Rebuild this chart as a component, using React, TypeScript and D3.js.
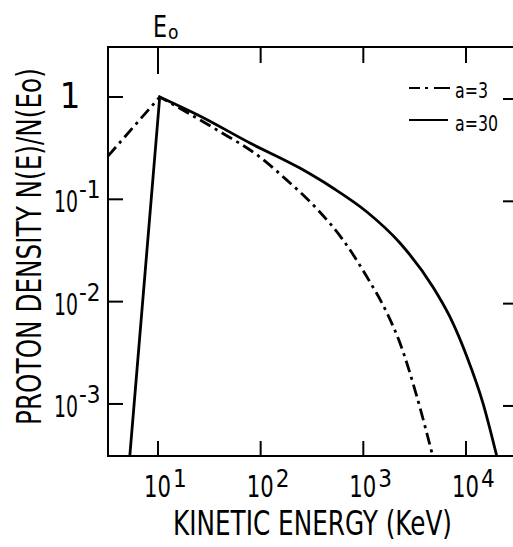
import React, { useLayoutEffect, useRef, useState } from "react";
import * as d3 from "d3";

const WIDTH = 513;
const HEIGHT = 547;

// values (energy in keV, density relative to N(Eo))
const energyA3 = [3.26, 10.4, 37.6, 98.4, 180, 354, 634, 1086, 1700, 2275, 3333, 4766];
const densityA3 = [0.265, 1, 0.476, 0.259, 0.154, 0.0805, 0.0401, 0.0174, 0.00774, 0.00394, 0.00117, 0.000303];
const energyA30 = [5.3, 10.4, 25.6, 78.7, 241, 506, 1086, 2275, 4766, 6980, 10230, 14630, 20040];
const densityA30 = [0.0003, 1, 0.652, 0.355, 0.202, 0.129, 0.0752, 0.0374, 0.0139, 0.00708, 0.00288, 0.00102, 0.000303];

const xTicks = [10, 100, 1000, 10000];
const xTickExp = ["1", "2", "3", "4"];
const yTicks = [1, 0.1, 0.01, 0.001];
const yTickExp = ["", "-1", "-2", "-3"];
const legendLabels = ["a=3", "a=30"];
const E0 = 10;

const FONT = "'DejaVu Sans Condensed', 'DejaVu Sans', sans-serif";
const DASHDOT = "12,5,3,5";

const margin = { left: 108, top: 47, right: 513, bottom: 456 };

const x = d3.scaleLog().domain([3.26, 28700]).range([margin.left, margin.right]);
const y = d3.scaleLog().domain([3.08, 3.1e-4]).range([margin.top, margin.bottom]);

type Pt = [number, number];

function curvePath(es: number[], ns: number[]) {
  const pts: Pt[] = es.map((e, i) => [x(e), y(ns[i])]);
  // sharp peak at Eo: straight rise, smooth fall
  const rise = d3.line().curve(d3.curveLinear)(pts.slice(0, 2)) || "";
  const fall = d3.line().curve(d3.curveMonotoneX)(pts.slice(1)) || "";
  return rise + fall.replace(/^M[^LC]*/, "");
}

// squeezes a text horizontally so it spans `width` px (the original lettering is narrow)
function FitText({ x, y, width, rotate = 0, fontSize, children }: any) {
  const ref = useRef<SVGTextElement>(null);
  const [sx, setSx] = useState(1);
  useLayoutEffect(() => {
    if (ref.current) {
      const len = ref.current.getComputedTextLength();
      if (len > 0) setSx(width / len);
    }
  }, [width, children, fontSize]);
  return (
    <text ref={ref} transform={`translate(${x},${y}) rotate(${rotate}) scale(${sx},1)`} fontSize={fontSize}>
      {children}
    </text>
  );
}

export default function App() {
  const pathA3 = curvePath(energyA3, densityA3);
  const pathA30 = curvePath(energyA30, densityA30);

  return (
    <svg
      width={WIDTH}
      height={HEIGHT}
      style={{ position: "absolute", left: 0, top: 0, display: "block", background: "#fff" }}
      fontFamily={FONT}
      fontStretch="condensed"
    >
      <defs>
        <clipPath id="plotArea">
          <rect x={margin.left} y={margin.top} width={margin.right - margin.left} height={margin.bottom - margin.top} />
        </clipPath>
      </defs>

      {/* frame */}
      <g stroke="#000" strokeWidth={2} fill="none">
        <line x1={margin.left} x2={margin.left} y1={margin.top - 1} y2={margin.bottom + 1} />
        <line x1={margin.left - 1} x2={WIDTH} y1={margin.top} y2={margin.top} />
        <line x1={margin.left - 1} x2={WIDTH} y1={margin.bottom} y2={margin.bottom} />
        {xTicks.map((t) => (
          <line key={"b" + t} x1={x(t)} x2={x(t)} y1={margin.bottom} y2={margin.bottom - 15} />
        ))}
        {xTicks.map((t) => (
          <line key={"t" + t} x1={x(t)} x2={x(t)} y1={margin.top} y2={margin.top + (t === E0 ? 27 : 16)} />
        ))}
        {yTicks.map((t) => (
          <line key={"l" + t} x1={margin.left} x2={margin.left + 15} y1={y(t)} y2={y(t)} />
        ))}
        {yTicks.map((t) => (
          <line key={"r" + t} x1={WIDTH - 10} x2={WIDTH} y1={y(t) + 2} y2={y(t) + 2} />
        ))}
      </g>

      {/* x tick labels */}
      {xTicks.map((t, i) => (
        <g key={"xl" + t}>
          <FitText x={x(t) - 14} y={497} width={27} fontSize={30}>10</FitText>
          <text x={x(t) + 15} y={487} fontSize={24}>{xTickExp[i]}</text>
        </g>
      ))}

      {/* y tick labels */}
      {yTicks.map((t, i) =>
        yTickExp[i] === "" ? (
          <text key={"yl" + t} x={70} y={y(t) + 11} fontSize={36} textAnchor="middle">1</text>
        ) : (
          <g key={"yl" + t}>
            <FitText x={54} y={y(t) + 13} width={24} fontSize={30}>10</FitText>
            <text x={79} y={y(t) - 1} fontSize={24}>{yTickExp[i]}</text>
          </g>
        )
      )}

      {/* Eo marker */}
      <FitText x={153} y={37} width={14} fontSize={30}>E</FitText>
      <text x={168} y={39} fontSize={19}>o</text>

      {/* curves */}
      <g clipPath="url(#plotArea)" fill="none" stroke="#000" strokeWidth={2.8}>
        <path d={pathA3} strokeDasharray={DASHDOT} />
        <path d={pathA30} strokeLinejoin="miter" />
      </g>

      {/* legend */}
      <g stroke="#000" strokeWidth={2.2}>
        <line x1={409} x2={450} y1={88} y2={88} strokeDasharray="11,5,3,6,16" />
        <line x1={409} x2={448} y1={120} y2={120} />
      </g>
      <FitText x={455} y={98} width={33} fontSize={21}>{legendLabels[0]}</FitText>
      <FitText x={455} y={131} width={43} fontSize={21}>{legendLabels[1]}</FitText>

      {/* axis titles */}
      <FitText x={173} y={535} width={279} fontSize={34}>KINETIC ENERGY (KeV)</FitText>
      <FitText x={41} y={425} rotate={-90} width={357} fontSize={33}>PROTON DENSITY N(E)/N(Eo)</FitText>
    </svg>
  );
}
